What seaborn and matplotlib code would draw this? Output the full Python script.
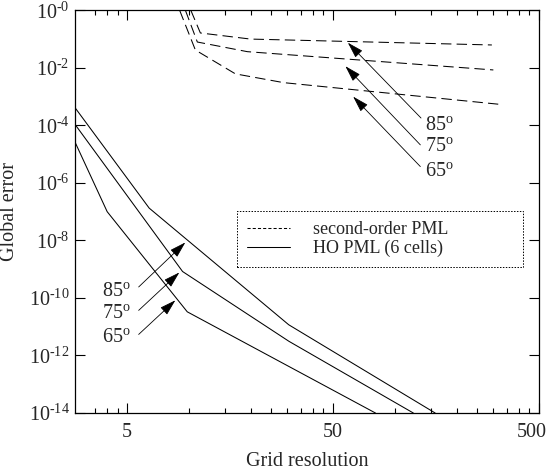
import numpy as np
import pandas as pd
import matplotlib
matplotlib.use('Agg')
import matplotlib.pyplot as plt
from matplotlib.lines import Line2D
from matplotlib.ticker import NullLocator, FixedLocator, NullFormatter
from matplotlib.transforms import ScaledTranslation
import seaborn as sns

# %% Valores
# HO PML (6 cells)
ho_x_85 = [2.8, 6.4, 30.5, 157]
ho_y_85 = [4.0e-4, 1.33e-7, 1.17e-11, 1.0e-14]
ho_x_75 = [2.8, 9.3, 30.6, 123]
ho_y_75 = [1.05e-4, 8.3e-10, 3.1e-12, 1.0e-14]
ho_x_65 = [2.8, 4.0, 9.8, 80.5]
ho_y_65 = [2.5e-5, 1.0e-7, 3.3e-11, 1.0e-14]

# second-order PML
so_x_85 = [10.2, 11.35, 19.9, 296]
so_y_85 = [1.0, 0.163, 0.100, 0.0624]
so_x_75 = [9.6, 10.97, 19.2, 301]
so_y_75 = [1.0, 0.079, 0.0365, 0.00845]
so_x_65 = [9.0, 10.73, 16.8, 28.8, 318]
so_y_65 = [1.0, 0.0417, 0.00617, 0.00306, 0.000545]

angle_labels = ['85$^{\\mathrm{o}}$', '75$^{\\mathrm{o}}$', '65$^{\\mathrm{o}}$']
legend_labels = ['second-order PML', 'HO PML (6 cells)']
x_ticks = [5, 50, 500]
x_tick_labels = ['5', '50', '500']
y_ticks = [1e0, 1e-2, 1e-4, 1e-6, 1e-8, 1e-10, 1e-12, 1e-14]
y_exps = ['0', '2', '4', '6', '8', '10', '12', '14']
y_tick_labels = ['$10^{\\text{-}%s}$' % e for e in y_exps]

# setas (ponta, cauda) e posição do texto
up_tips = [(59.1, 0.075), (57.5, 0.0114), (62.7, 1.0e-3)]
up_tails = [(134, 1.8e-4), (133, 2.1e-5), (133, 3.7e-6)]
up_text = [(140.8, 9.6e-5), (140.8, 1.79e-5), (140.8, 2.43e-6)]
low_tips = [(9.59, 8.5e-9), (8.97, 7.7e-10), (8.58, 8.3e-11)]
low_tails = [(5.69, 2.41e-10), (5.69, 3.7e-11), (5.69, 5.4e-12)]
low_text = [(5.19, 1.7e-10), (5.19, 3.0e-11), (5.19, 4.1e-12)]

# %% Monta dataframe longo
parts = []
for kind, name, xs, ys in [
        ('HO', '85', ho_x_85, ho_y_85), ('HO', '75', ho_x_75, ho_y_75),
        ('HO', '65', ho_x_65, ho_y_65), ('SO', '85', so_x_85, so_y_85),
        ('SO', '75', so_x_75, so_y_75), ('SO', '65', so_x_65, so_y_65)]:
    parts.append(pd.DataFrame({'x': xs, 'y': ys, 'kind': kind,
                               'serie': kind + name}))
df = pd.concat(parts, ignore_index=True)

# %%
sns.set_style('ticks')
plt.rcParams['font.family'] = ['Liberation Serif', 'DejaVu Serif']
plt.rcParams['mathtext.fontset'] = 'custom'
plt.rcParams['mathtext.rm'] = 'Liberation Serif'
plt.rcParams['mathtext.it'] = 'Liberation Serif:italic'

fig = plt.figure(figsize=(5.52, 4.71), dpi=100)
ax = fig.add_axes([0.1364, 0.1231, 0.8395, 0.855])

sns.lineplot(data=df, x='x', y='y', units='serie', style='kind',
             estimator=None, sort=False, color='k', lw=0.75,
             dashes={'HO': '', 'SO': (10, 5)}, legend=False, ax=ax)

ax.set_xscale('log')
ax.set_yscale('log')
ax.set_xlim(2.8, 500)
ax.set_ylim(1e-14, 1e0)

ax.set_xticks(x_ticks, x_tick_labels)
ax.xaxis.set_minor_locator(FixedLocator(
    [3.5, 4, 4.5] + [5 * k for k in range(2, 10)] + [50 * k for k in range(2, 10)]))
ax.xaxis.set_minor_formatter(NullFormatter())
ax.set_yticks(y_ticks, y_tick_labels)
ax.yaxis.set_minor_locator(NullLocator())
ax.tick_params(which='both', direction='in', top=True, right=True,
               labelsize=14.5, width=0.8, color='k')
ax.tick_params(which='major', length=7)
ax.tick_params(axis='x', which='major', pad=7)
ax.tick_params(axis='y', which='major', pad=4)
ax.tick_params(which='minor', length=3.5)
for s in ax.spines.values():
    s.set_linewidth(0.9)
    s.set_color('k')

# "500" fica um pouco para dentro, como no original
last = ax.get_xticklabels()[-1]
last.set_transform(last.get_transform() + ScaledTranslation(-5 / 72, 0, fig.dpi_scale_trans))

ax.set_xlabel('Grid resolution', fontsize=14.5)
ax.set_ylabel('Global error', fontsize=14.5)
ax.xaxis.set_label_coords(0.5, -0.097)
ax.yaxis.set_label_coords(-0.121, 0.5)

# setas e ângulos
arrow = dict(arrowstyle='-|>,head_length=1.0,head_width=0.3', color='k',
             lw=0.6, shrinkA=0, shrinkB=0)
for tip, tail, pos, lab in zip(up_tips, up_tails, up_text, angle_labels):
    ax.annotate('', xy=tip, xytext=tail, arrowprops=arrow)
    ax.text(pos[0], pos[1], lab, ha='left', va='center', fontsize=14.5)
for tip, tail, pos, lab in zip(low_tips, low_tails, low_text, angle_labels):
    ax.annotate('', xy=tip, xytext=tail, arrowprops=arrow)
    ax.text(pos[0], pos[1], lab, ha='right', va='center', fontsize=14.5)

handles = [Line2D([], [], color='k', lw=0.75, ls=(0, (3, 2))),
           Line2D([], [], color='k', lw=0.75)]
leg = ax.legend(handles, legend_labels, loc='upper left',
                bbox_to_anchor=(0.3483, 0.3608, 0.6185, 0.1408), mode='expand',
                borderaxespad=0, fontsize=13, handlelength=2.4,
                handletextpad=1.3, borderpad=0.55, labelspacing=0.12,
                fancybox=False, edgecolor='k', framealpha=1)
leg.get_frame().set_linestyle((0, (1.5, 1.5)))
leg.get_frame().set_linewidth(0.7)

plt.savefig('out.png', dpi=100)
